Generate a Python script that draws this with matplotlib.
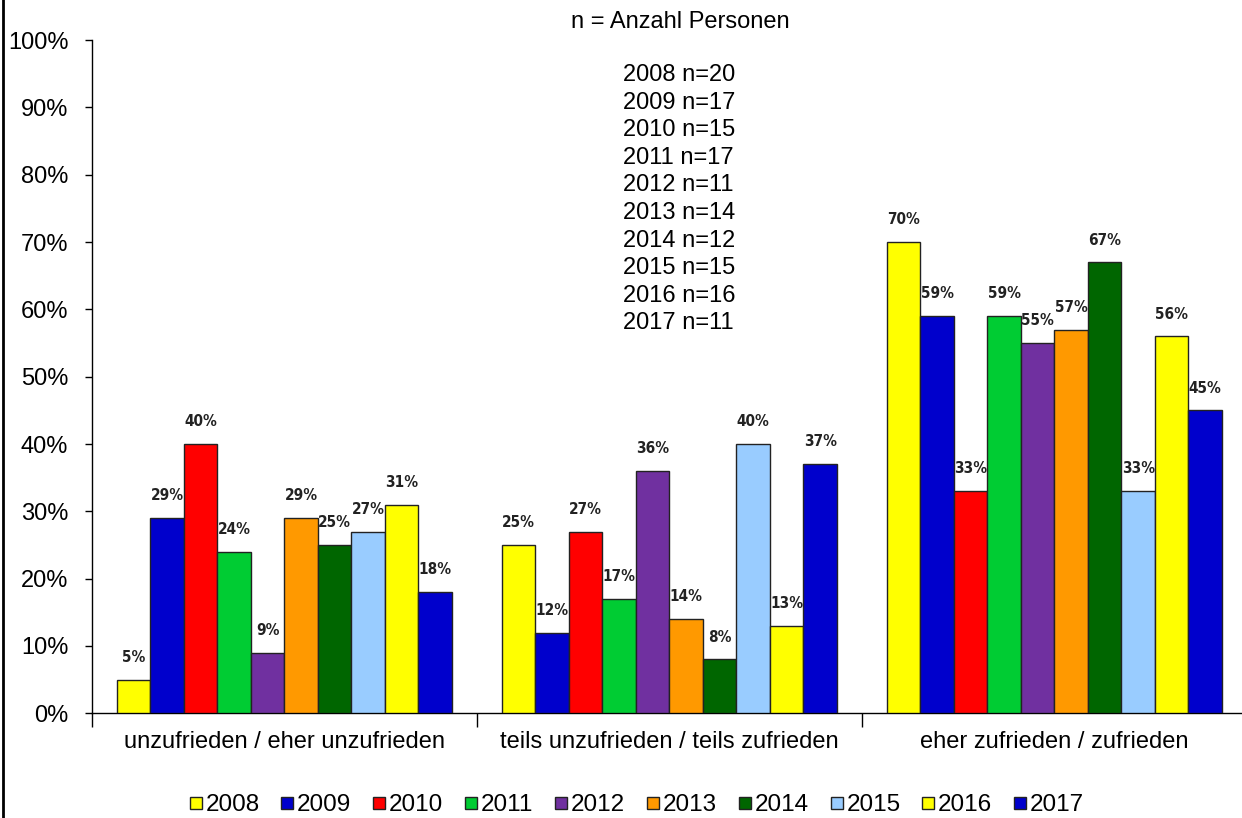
import numpy as np
import matplotlib.pyplot as plt
from matplotlib.lines import Line2D
from matplotlib import font_manager

categories = ["unzufrieden / eher unzufrieden",
              "teils unzufrieden / teils zufrieden",
              "eher zufrieden / zufrieden"]
years = ["2008", "2009", "2010", "2011", "2012", "2013", "2014", "2015", "2016", "2017"]
n_persons = [20, 17, 15, 17, 11, 14, 12, 15, 16, 11]
values = {
    "2008": [5, 25, 70],
    "2009": [29, 12, 59],
    "2010": [40, 27, 33],
    "2011": [24, 17, 59],
    "2012": [9, 36, 55],
    "2013": [29, 14, 57],
    "2014": [25, 8, 67],
    "2015": [27, 40, 33],
    "2016": [31, 13, 56],
    "2017": [18, 37, 45],
}
colors = ["#FFFF00", "#0000CC", "#FF0000", "#00CC33", "#7030A0",
          "#FF9900", "#006600", "#99CCFF", "#FFFF00", "#0000CC"]

plt.rcParams['font.family'] = ['Liberation Sans', 'DejaVu Sans']
names = {f.name for f in font_manager.fontManager.ttflist}
if 'Liberation Sans Narrow' in names:
    label_kw = dict(family='Liberation Sans Narrow', fontsize=12.5)
else:
    label_kw = dict(family='DejaVu Sans', fontstretch='condensed', fontsize=11)

fig = plt.figure(figsize=(12.42, 8.18), dpi=100)
ax = fig.add_axes([0.074, 0.128, 0.93, 0.823])

x = np.arange(len(categories))
width = 0.087
for i, yr in enumerate(years):
    offs = (i - 4.5) * width
    bars = ax.bar(x + offs, values[yr], width, color=colors[i],
                  edgecolor="#222222", linewidth=1.0, zorder=3)
    for b, v in zip(bars, values[yr]):
        ax.text(b.get_x() + b.get_width() / 2, v + 3.3, f"{v}%",
                ha="center", va="center", fontweight="bold",
                color="#222222", **label_kw)

ax.set_xlim(-0.5, 2.5)
ax.set_ylim(0, 100)
ax.set_yticks(np.arange(0, 101, 10))
ax.set_yticklabels([f"{t}%" for t in range(0, 101, 10)], fontsize=17)
ax.set_xticks(x)
ax.set_xticklabels(categories, fontsize=17)
ax.tick_params(axis="x", which="major", length=0, pad=13)
ax.set_xticks([-0.5, 0.5, 1.5], minor=True)
ax.tick_params(axis="x", which="minor", length=10, direction="out", width=1)
ax.tick_params(axis="y", length=5, direction="out", width=1, pad=12)
ax.spines["top"].set_visible(False)
ax.spines["right"].set_visible(False)
ax.spines["left"].set_linewidth(1)
ax.spines["bottom"].set_linewidth(1)

# Textbox with sample sizes
fig.text(680 / 1242, 1 - 22 / 818, "n = Anzahl Personen", ha="center",
         va="center", fontsize=17)
for k, (yr, n) in enumerate(zip(years, n_persons)):
    fig.text(623 / 1242, 1 - (75 + k * 27.6) / 818, f"{yr} n={n}",
             ha="left", va="center", fontsize=17)

# Legend
handles = [Line2D([], [], marker="s", linestyle="none", markersize=9,
                  markerfacecolor=c, markeredgecolor="#222222", markeredgewidth=1)
           for c in colors]
fig.legend(handles, years, loc="center", bbox_to_anchor=(635 / 1242, 1 - 805 / 818),
           ncol=10, frameon=False, fontsize=17.5, handletextpad=0.0,
           columnspacing=0.75, handlelength=0.8)

# left border line of the chart area
fig.add_artist(Line2D([3 / 1242, 3 / 1242], [0, 1], color="black", linewidth=2))

fig.savefig("out.png", dpi=100)
